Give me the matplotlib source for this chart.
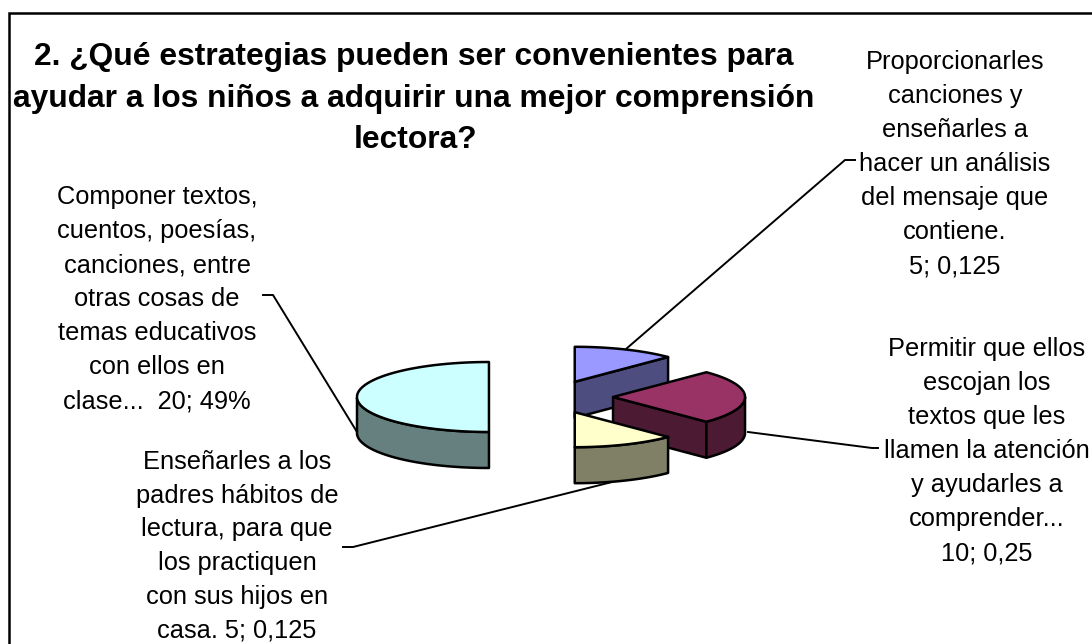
import numpy as np
import matplotlib
matplotlib.use("Agg")
import matplotlib.pyplot as plt
from matplotlib.patches import Polygon

plt.rcParams['font.family'] = ['Liberation Sans', 'DejaVu Sans']

title_lines = ["2. ¿Qué estrategias pueden ser convenientes para",
               "ayudar a los niños a adquirir una mejor comprensión",
               "lectora?"]
values = [5, 10, 5, 20]
top_colors = ['#9999ff', '#993366', '#ffffcc', '#ccffff']
side_colors = ['#4d4d80', '#4d1a33', '#808066', '#668080']
labels = [
    "Proporcionarles\ncanciones y\nenseñarles a\nhacer un análisis\ndel mensaje que\ncontiene.\n5; 0,125",
    "Permitir que ellos\nescojan los\ntextos que les\nllamen la atención\ny ayudarles a\ncomprender...\n10; 0,25",
    "Enseñarles a los\npadres hábitos de\nlectura, para que\nlos practiquen\ncon sus hijos en\ncasa. 5; 0,125",
    "Componer textos,\ncuentos, poesías,\ncanciones, entre\notras cosas de\ntemas educativos\ncon ellos en\nclase...  20; 49%",
]
label_pos = [(955, 50), (987, 337), (237, 450), (157, 185)]
label_spacing = [1.53, 1.53, 1.51, 1.53]
leaders = [
    [(626, 349), (845, 160), (855, 160)],
    [(748, 432), (872, 448), (878, 448)],
    [(628, 478), (353, 547), (343, 547)],
    [(357, 432), (273, 295), (263, 295)],
]

CX, CY, RX, RY, DEPTH, EXPLODE = 551.0, 397.0, 132.0, 35.0, 36.0, 0.47

fig = plt.figure(figsize=(10.92, 6.44), dpi=100, facecolor='white')
ax = fig.add_axes([0, 0, 1, 1])
ax.set_xlim(0, 1092)
ax.set_ylim(644, 0)
ax.axis('off')

# Chart frame, cut by the picture's right and bottom edges
ax.plot([8.5, 8.5, 1092], [644, 13, 13], color='black', lw=1.8, solid_joinstyle='miter')

for line, x, y in zip(title_lines, (414, 414, 416), (65, 106.5, 148)):
    ax.text(x, y, line, ha='center', va='baseline', fontsize=22.85, fontweight='bold')


def pt(cx, cy, a):
    return cx + RX * np.sin(a), cy - RY * np.cos(a)


total = sum(values)
edges = np.concatenate([[0], np.cumsum(values)]) / total * 2 * np.pi
slices = []
for i, v in enumerate(values):
    a0, a1 = edges[i], edges[i + 1]
    mid = (a0 + a1) / 2
    cx = CX + EXPLODE * RX * np.sin(mid)
    cy = CY - EXPLODE * RY * np.cos(mid)
    slices.append((i, a0, a1, cx, cy))

for i, a0, a1, cx, cy in [slices[3], slices[0], slices[1], slices[2]]:
    z = 3 + i
    ec = dict(ec='black', lw=1.8, joinstyle='round')
    ts = np.linspace(a0, a1, 60)
    arc = [pt(cx, cy, t) for t in ts]
    if i in (0, 1):
        p = pt(cx, cy, a1)
        face = [(cx, cy), p, (p[0], p[1] + DEPTH), (cx, cy + DEPTH)]
        ax.add_patch(Polygon(face, fc=side_colors[i], zorder=z, **ec))
    wall_ts = ts[np.cos(ts) <= 1e-9]
    if len(wall_ts) > 1:
        w = [pt(cx, cy, t) for t in wall_ts]
        wall = w + [(x, y + DEPTH) for x, y in reversed(w)]
        ax.add_patch(Polygon(wall, fc=side_colors[i], zorder=z, **ec))
    ax.add_patch(Polygon([(cx, cy)] + arc, fc=top_colors[i], zorder=z + 0.5, **ec))

for lab, (x, y), ls in zip(labels, label_pos, label_spacing):
    ax.text(x, y, lab, ha='center', va='top', fontsize=18.3, linespacing=ls, zorder=10)

for pts in leaders:
    xs, ys = zip(*pts)
    ax.plot(xs, ys, color='black', lw=1.4, zorder=2)

fig.savefig('out.png', dpi=100, facecolor='white')
